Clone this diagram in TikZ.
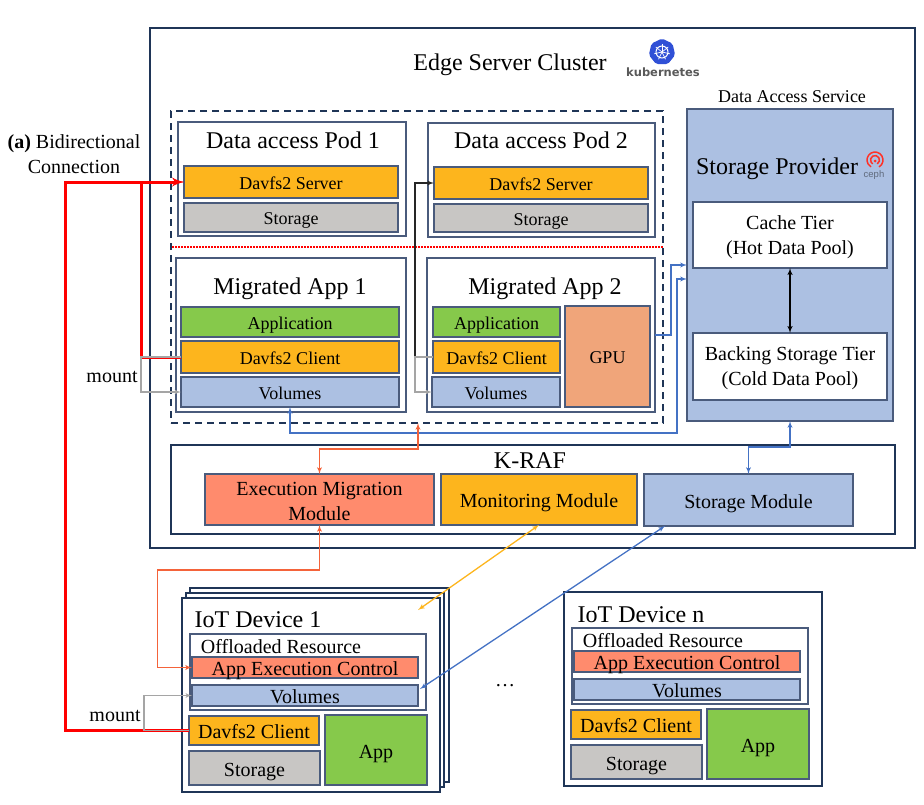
\documentclass[tikz,border=0pt]{standalone}
\usepackage{fontspec}
\setmainfont{Liberation Serif}
\newfontfamily\logofont{DejaVu Sans}
\newfontfamily\cephfont{Liberation Sans}
\usetikzlibrary{arrows}
\usetikzlibrary{shapes.geometric}
\definecolor{navyline}{HTML}{1F3557}
\definecolor{slateline}{HTML}{4A5B7C}
\definecolor{orangefill}{HTML}{FDB51D}
\definecolor{grayfill}{HTML}{C8C6C4}
\definecolor{greenfill}{HTML}{86C94B}
\definecolor{bluefill}{HTML}{ACC0E2}
\definecolor{salmonfill}{HTML}{FF8B6D}
\definecolor{gpufill}{HTML}{F0A57A}
\definecolor{bluelink}{HTML}{4472C4}
\definecolor{orangelink}{HTML}{F4633A}
\definecolor{yellowlink}{HTML}{FDB51D}
\definecolor{graylink}{HTML}{A5A5A5}
\tikzset{>=latex',
  wh/.style 2 args = {minimum width=#1pt, minimum height=#2pt},
  box/.style = {draw=slateline, line width=1.2pt, inner sep=0pt, outer sep=0pt, align=center},
  frame/.style = {box, draw=navyline, line width=2pt},
  midtext/.style = {font=\fontsize{18}{23}\selectfont, text height=14pt, text depth=0pt},
  bigtext/.style = {font=\fontsize{20}{25}\selectfont, text height=16pt, text depth=0pt},
  twolines/.style = {font=\fontsize{20}{25}\selectfont, text height=43pt},
  hugetext/.style = {font=\fontsize{24}{29}\selectfont, text height=16pt, text depth=0pt},
  redlink/.style = {draw=red, line width=3pt, ->},
  graylinkline/.style = {draw=graylink, line width=1.2pt},
  bluelinkline/.style = {draw=bluelink, line width=1.3pt},
  orangelinkline/.style = {draw=orangelink, line width=1.3pt},
}
\begin{document}
\begin{tikzpicture}[x=1pt, y=-1pt]
  \useasboundingbox (0, 0) rectangle (924, 804);

  \node [frame, wh={765}{520}] (cluster) at (532.5, 288) {};
  \node [hugetext] (clustertitle) at (510, 62) {Edge Server Cluster};
  \node [regular polygon, regular polygon sides=7, fill=bluelink!70!blue, rounded corners=2pt, minimum size=27pt, inner sep=0pt] (k8swheel) at (662, 52) {};
  \draw [white, line width=1pt] (k8swheel.center) circle [radius=6pt];
  \foreach \a in {90, 141.4, 192.9, 244.3, 295.7, 347.1, 38.6}
    \draw [white, line width=0.7pt] (k8swheel.center) -- ++(\a:8pt);
  \node [font=\logofont\bfseries\fontsize{11.5}{13}\selectfont, text=black!65] (k8stext) at (663, 72) {kubernetes};

  \node [midtext] (accesstitle) at (792, 95) {Data Access Service};
  \node [box, fill=bluefill, wh={206}{312}] (access) at (790, 265) {};
  \node [hugetext] (providertitle) at (777, 166) {Storage Provider};
  \draw [red!65!salmonfill, line width=1.5pt] ([shift={(-60:8pt)}]875, 160) arc [start angle=-60, end angle=240, radius=8pt];
  \draw [red!65!salmonfill, line width=1.5pt] ([shift={(-60:4.5pt)}]875, 160) arc [start angle=-60, end angle=240, radius=4.5pt];
  \fill [red!65!salmonfill] (875, 161) circle [radius=1.5pt];
  \node [font=\cephfont\fontsize{9.5}{11}\selectfont, text=black!45!bluefill] (cephtext) at (874, 175) {ceph};
  \node [box, twolines, fill=white, wh={194}{66}] (cache) at (790, 235) {Cache Tier\\(Hot Data Pool)};
  \node [box, twolines, fill=white, wh={194}{67}] (backing) at (790, 366.5) {Backing Storage Tier\\(Cold Data Pool)};
  \draw [<->, line width=1.4pt] (cache) -- (backing);

  \node [draw=navyline, line width=1.6pt, dash pattern=on 7pt off 5pt, inner sep=0pt, wh={492}{312}] (podgroup) at (417, 267) {};
  \coordinate (splitleft) at (172, 247);
  \coordinate (splitright) at (663, 247);
  \draw [red, line width=1.2pt, dash pattern=on 2pt off 1pt] (splitleft) -- (splitright);

  \node [box, wh={228}{114}] (pod1) at (292, 179) {};
  \node [hugetext] (pod1title) at (293, 140) {Data access Pod 1};
  \node [box, midtext, fill=orangefill, wh={214}{32}] (server1) at (291, 182) {Davfs2 Server};
  \node [box, midtext, fill=grayfill, wh={214}{29}] (storage1) at (291, 217.5) {Storage};

  \node [box, wh={227}{114}] (pod2) at (541.5, 180) {};
  \node [hugetext] (pod2title) at (541, 140) {Data access Pod 2};
  \node [box, midtext, fill=orangefill, wh={214}{32}] (server2) at (541, 183) {Davfs2 Server};
  \node [box, midtext, fill=grayfill, wh={214}{28}] (storage2) at (541, 218) {Storage};

  \node [box, wh={230}{154}] (app1) at (291, 335) {};
  \node [hugetext] (app1title) at (290, 286) {Migrated App 1};
  \node [box, midtext, fill=greenfill, wh={218}{30}] (application1) at (290, 322) {Application};
  \node [box, midtext, fill=orangefill, wh={218}{32}] (client1) at (290, 357) {Davfs2 Client};
  \node [box, midtext, fill=bluefill, wh={218}{30}] (volumes1) at (290, 392) {Volumes};

  \node [box, wh={228}{154}] (app2) at (541, 335) {};
  \node [hugetext] (app2title) at (545, 286) {Migrated App 2};
  \node [box, midtext, fill=greenfill, wh={127}{30}] (application2) at (496.5, 322) {Application};
  \node [box, midtext, fill=orangefill, wh={127}{32}] (client2) at (496.5, 357) {Davfs2 Client};
  \node [box, midtext, fill=bluefill, wh={128}{30}] (volumes2) at (496, 392) {Volumes};
  \node [box, midtext, fill=gpufill, wh={85}{101}] (gpu) at (607.5, 356.5) {GPU};

  \node [frame, wh={724}{89}] (kraf) at (533, 489.5) {};
  \node [hugetext] (kraftitle) at (530, 460) {K-RAF};
  \node [box, twolines, fill=salmonfill, wh={229}{51}] (exec) at (319.5, 499.5) {Execution Migration\\Module};
  \node [box, bigtext, fill=orangefill, wh={196}{51}] (monitor) at (539, 499.5) {Monitoring Module};
  \node [box, bigtext, fill=bluefill, wh={209}{52}] (storagemod) at (748.5, 500) {Storage Module};

  \node [frame, fill=white, wh={259}{194}] (iotback) at (319.5, 685) {};
  \node [frame, fill=white, wh={258}{194}] (iotmid) at (315, 690) {};
  \node [frame, fill=white, wh={258}{194}] (iot1) at (311, 695) {};
  \node [hugetext] (iot1title) at (258, 619) {IoT Device 1};
  \node [box, wh={236}{76}] (off1) at (308, 672) {};
  \node [bigtext] (off1title) at (281, 645) {Offloaded Resource};
  \node [box, bigtext, fill=salmonfill, wh={226}{21}] (control1) at (305, 667.5) {App Execution Control};
  \node [box, bigtext, fill=bluefill, wh={226}{21}] (volumesiot1) at (305, 695.5) {Volumes};
  \node [box, bigtext, fill=orangefill, wh={130}{29}] (clientiot1) at (254, 730.5) {Davfs2 Client};
  \node [box, bigtext, fill=grayfill, wh={131}{34}] (storageiot1) at (254.5, 768) {Storage};
  \node [box, bigtext, fill=greenfill, wh={102}{70}] (appiot1) at (376, 750) {App};

  \node [frame, fill=white, wh={258}{194}] (iotn) at (693, 689) {};
  \node [hugetext] (iotntitle) at (641, 614) {IoT Device n};
  \node [box, wh={236}{76}] (offn) at (690, 666) {};
  \node [bigtext] (offntitle) at (663, 639) {Offloaded Resource};
  \node [box, bigtext, fill=salmonfill, wh={226}{21}] (controln) at (687, 661.5) {App Execution Control};
  \node [box, bigtext, fill=bluefill, wh={226}{21}] (volumesiotn) at (687, 689.5) {Volumes};
  \node [box, bigtext, fill=orangefill, wh={130}{29}] (clientiotn) at (636, 724.5) {Davfs2 Client};
  \node [box, bigtext, fill=grayfill, wh={131}{34}] (storageiotn) at (636.5, 762) {Storage};
  \node [box, bigtext, fill=greenfill, wh={102}{70}] (appiotn) at (758, 744) {App};
  \node [bigtext] (iotdots) at (505, 678) {…};

  \node [twolines, align=center] (biditext) at (74, 152) {\textbf{(a)} Bidirectional\\Connection};
  \node [bigtext] (mounttop) at (112, 374) {mount};
  \node [bigtext] (mountbottom) at (115, 713) {mount};

  \coordinate (storebend) at (677, 433);
  \coordinate (dashin) at (418, 423);
  \coordinate (yellowend) at (418, 610);
  \coordinate (bluestart) at (665, 526);
  \coordinate (blueend) at (420, 689);

  \draw [redlink] (clientiot1.west) -- ++(-124, 0) |- (server1.west);
  \draw [redlink] (client1.west) -- ++(-40, 0) |- (server1.west);
  \draw [->, line width=1.3pt, black!85] (client2.west) -- ++(-18, 0) |- (server2.west);

  \draw [graylinkline, ->] (client1.west) -- ++(-40, 0) |- (volumes1.west);
  \draw [graylinkline, ->] (client2.west) -- ++(-18, 0) |- (volumes2.west);
  \draw [graylinkline, ->] (clientiot1.west) -- ++(-45, 0) |- (volumesiot1.west);

  \draw [bluelinkline, <->] (volumes1.south) |- (storebend) |- ([yshift=-14pt]access.west);
  \draw [bluelinkline, ->] (app2.east) -- ++(16, 0) |- (access.west);
  \draw [bluelinkline, <->] (access.south) -- ++(0, 26) -| (storagemod.north);
  \draw [bluelinkline, <->] (bluestart) -- (blueend);

  \draw [orangelinkline, <->] (exec.north) -- ++(0, -25) -| (dashin);
  \draw [orangelinkline, <->] (exec.south) -- ++(0, 45) -- ++(-162, 0) |- (control1.west);
  \draw [draw=yellowlink, line width=1.3pt, <->] (monitor.south) -- (yellowend);
\end{tikzpicture}
\end{document}
